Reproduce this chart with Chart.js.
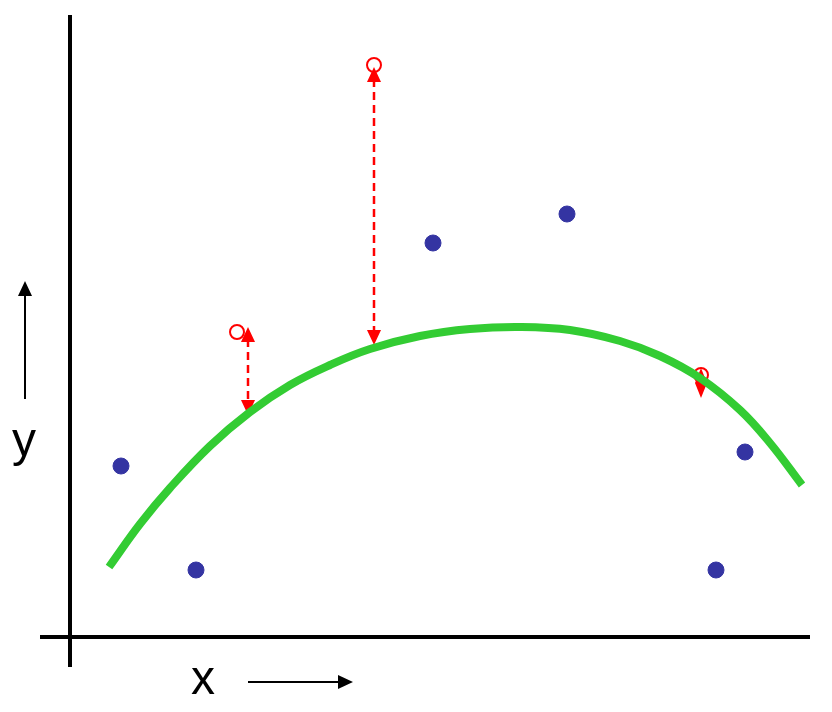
<!DOCTYPE html>
<html>
<head>
<meta charset="utf-8">
<script src="https://cdn.jsdelivr.net/npm/chart.js@4/dist/chart.umd.min.js"></script>
<style>
  html, body { margin: 0; padding: 0; background: #fff; }
  #wrap { width: 832px; height: 712px; }
</style>
</head>
<body>
<div id="wrap"><canvas id="grafico"></canvas></div>
<script>
// pontos observados (azul)
const pontosX = [5.1, 12.6, 36.3, 49.7, 64.6, 67.5];
const pontosY = [17.1, 6.7, 39.4, 42.3, 6.7, 18.5];

// observações em destaque (círculos vermelhos)
const destaqueX = [16.7, 30.4, 63.1];
const destaqueY = [30.5, 57.2, 26.2];

// residuos: seta vertical entre observação e curva
const residuoX = [17.8, 30.4, 63.1];
const residuoTopo = [31.0, 57.0, 26.9];
const residuoBase = [22.2, 29.2, 23.9];

// curva ajustada (verde)
const curvaX = [3.9, 7.0, 10.0, 14.0, 18.0, 22.0, 26.0, 30.0, 35.0, 40.0, 45.0, 50.0, 55.0, 59.0, 63.0, 67.0, 70.0, 73.2];
const curvaY = [7.0, 11.3, 14.9, 19.1, 22.5, 25.2, 27.2, 28.8, 30.1, 30.8, 31.0, 30.7, 29.6, 28.1, 25.9, 22.7, 19.4, 15.2];

const rotuloX = "x";
const rotuloY = "y";

function seta(ctx, x1, y1, x2, y2, tam, larg) {
  // desenha a cabeça da seta com ponta em (x2, y2)
  const ang = Math.atan2(y2 - y1, x2 - x1);
  ctx.beginPath();
  ctx.moveTo(x2, y2);
  ctx.lineTo(x2 - tam * Math.cos(ang) + larg * Math.sin(ang), y2 - tam * Math.sin(ang) - larg * Math.cos(ang));
  ctx.lineTo(x2 - tam * Math.cos(ang) - larg * Math.sin(ang), y2 - tam * Math.sin(ang) + larg * Math.cos(ang));
  ctx.closePath();
  ctx.fill();
}

const eixosPlugin = {
  id: "eixos",
  beforeDatasetsDraw(chart) {
    const ctx = chart.ctx;
    const sx = chart.scales.x;
    const sy = chart.scales.y;
    ctx.save();

    // eixos
    ctx.strokeStyle = "#000";
    ctx.lineWidth = 4;
    ctx.beginPath();
    ctx.moveTo(sx.getPixelForValue(0), sy.getPixelForValue(62.2));
    ctx.lineTo(sx.getPixelForValue(0), sy.getPixelForValue(-3));
    ctx.moveTo(sx.getPixelForValue(-3), sy.getPixelForValue(0));
    ctx.lineTo(sx.getPixelForValue(74), sy.getPixelForValue(0));
    ctx.stroke();

    // setas dos residuos
    ctx.strokeStyle = "#ff0000";
    ctx.fillStyle = "#ff0000";
    ctx.lineWidth = 2.5;
    for (let i = 0; i < residuoX.length; i++) {
      const px = sx.getPixelForValue(residuoX[i]);
      const yt = sy.getPixelForValue(residuoTopo[i]);
      const yb = sy.getPixelForValue(residuoBase[i]);
      const dist = yb - yt;
      if (dist > 30) {
        ctx.setLineDash([8, 5]);
        ctx.beginPath();
        ctx.moveTo(px, yt + 12);
        ctx.lineTo(px, yb - 12);
        ctx.stroke();
        ctx.setLineDash([]);
        seta(ctx, px, yb, px, yt, 15, 7);
        seta(ctx, px, yt, px, yb, 15, 7);
      } else {
        const meio = (yt + yb) / 2;
        seta(ctx, px, meio, px, yt, dist / 2, 6);
        seta(ctx, px, meio, px, yb, dist / 2, 6);
      }
    }
    ctx.restore();
  },
  afterDraw(chart) {
    const ctx = chart.ctx;
    ctx.save();
    ctx.fillStyle = "#000";
    ctx.strokeStyle = "#000";
    ctx.font = "48px 'Liberation Sans', Arial, sans-serif";
    ctx.textBaseline = "alphabetic";
    ctx.fillText(rotuloY, 12, 456);
    ctx.fillText(rotuloX, 191, 694);

    ctx.lineWidth = 2;
    ctx.beginPath();
    ctx.moveTo(25, 399);
    ctx.lineTo(25, 292);
    ctx.moveTo(248, 682);
    ctx.lineTo(340, 682);
    ctx.stroke();
    seta(ctx, 25, 399, 25, 281, 15, 7);
    seta(ctx, 248, 682, 353, 682, 15, 7);
    ctx.restore();
  }
};

new Chart(document.getElementById("grafico"), {
  type: "scatter",
  data: {
    datasets: [
      {
        label: "pontos",
        data: pontosX.map((x, i) => ({ x: x, y: pontosY[i] })),
        backgroundColor: "#3434a2",
        borderColor: "#3434a2",
        pointRadius: 8,
        pointHoverRadius: 8,
        order: 1,
      },
      {
        label: "destaque",
        data: destaqueX.map((x, i) => ({ x: x, y: destaqueY[i] })),
        backgroundColor: "rgba(255,255,255,0)",
        borderColor: "#ff0000",
        borderWidth: 2,
        pointRadius: 7,
        order: 3,
      },
      {
        type: "line",
        label: "curva",
        data: curvaX.map((x, i) => ({ x: x, y: curvaY[i] })),
        borderColor: "#33cc33",
        borderWidth: 8,
        pointRadius: 0,
        tension: 0.4,
        fill: false,
        borderCapStyle: "butt",
        order: 2,
      },
    ],
  },
  options: {
    responsive: true,
    maintainAspectRatio: false,
    animation: false,
    layout: { padding: 0, autoPadding: false },
    plugins: { legend: { display: false }, tooltip: { enabled: false } },
    scales: {
      x: { type: "linear", min: -7, max: 76.2, display: false },
      y: { type: "linear", min: -7.5, max: 63.7, display: false },
    },
  },
  plugins: [eixosPlugin],
});
</script>
</body>
</html>
